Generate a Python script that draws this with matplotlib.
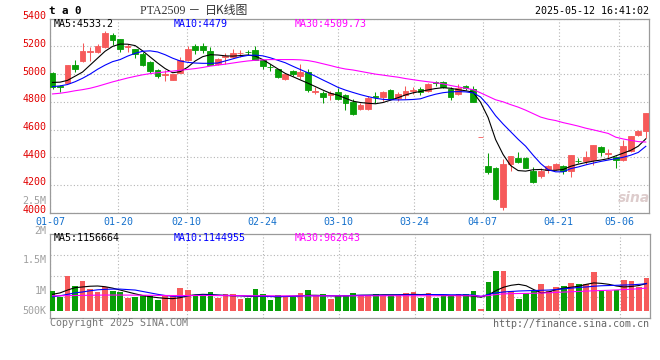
import matplotlib
matplotlib.use("Agg")
import matplotlib.pyplot as plt
from matplotlib.transforms import ScaledTranslation

plt.rcParams["font.family"] = ["DejaVu Sans Mono", "Noto Sans CJK SC"]

# ---------------------------------------------------------
# DATA
# ---------------------------------------------------------
dates = [
    "01-07", "01-08", "01-09", "01-10", "01-13", "01-14", "01-15", "01-16", "01-17", "01-20",
    "01-21", "01-22", "01-23", "01-24", "01-27", "02-05", "02-06", "02-07", "02-10", "02-11",
    "02-12", "02-13", "02-14", "02-17", "02-18", "02-19", "02-20", "02-21", "02-24", "02-25",
    "02-26", "02-27", "02-28", "03-03", "03-04", "03-05", "03-06", "03-07", "03-10", "03-11",
    "03-12", "03-13", "03-14", "03-17", "03-18", "03-19", "03-20", "03-21", "03-24", "03-25",
    "03-26", "03-27", "03-28", "03-31", "04-01", "04-02", "04-03", "04-07", "04-08", "04-09",
    "04-10", "04-11", "04-14", "04-15", "04-16", "04-17", "04-18", "04-21", "04-22", "04-23",
    "04-24", "04-25", "04-28", "04-29", "04-30", "05-06", "05-07", "05-08", "05-09", "05-12",
]

opens = [
    5008, 4914, 4938, 5064, 5093, 5160, 5157, 5195, 5279, 5250,
    5196, 5179, 5148, 5088, 5029, 4995, 4957, 5010, 5100, 5200,
    5200, 5164, 5070, 5126, 5124, 5150, 5162, 5171, 5105, 5055,
    5035, 4962, 5024, 4988, 5017, 4872, 4862, 4850, 4872, 4850,
    4800, 4750, 4750, 4840, 4836, 4886, 4830, 4848, 4880, 4896,
    4880, 4940, 4940, 4893, 4857, 4914, 4893, 4548, 4338, 4321,
    4041, 4350, 4393, 4393, 4298, 4267, 4307, 4314, 4338, 4298,
    4376, 4374, 4381, 4474, 4422, 4402, 4381, 4445, 4564, 4593,
]
highs = [
    5015, 4922, 5069, 5105, 5226, 5195, 5214, 5314, 5295, 5255,
    5219, 5183, 5160, 5093, 5036, 5029, 5002, 5124, 5200, 5219,
    5224, 5195, 5116, 5152, 5183, 5176, 5176, 5202, 5105, 5071,
    5038, 5003, 5029, 5070, 5040, 4905, 4879, 4876, 4898, 4857,
    4822, 4795, 4840, 4874, 4876, 4890, 4874, 4914, 4910, 4910,
    4938, 4952, 4952, 4910, 4929, 4921, 4914, 4548, 4429, 4331,
    4386, 4409, 4441, 4400, 4331, 4326, 4345, 4362, 4345, 4414,
    4393, 4443, 4486, 4481, 4462, 4410, 4528, 4552, 4600, 4719,
]
lows = [
    4895, 4874, 4933, 5017, 5088, 5095, 5152, 5192, 5207, 5160,
    5160, 5117, 5057, 5010, 4969, 4952, 4957, 5005, 5095, 5143,
    5155, 5066, 5066, 5076, 5119, 5124, 5140, 5100, 5040, 5024,
    4974, 4957, 4988, 4964, 4874, 4860, 4795, 4814, 4814, 4743,
    4708, 4740, 4743, 4795, 4805, 4814, 4805, 4822, 4857, 4850,
    4874, 4912, 4898, 4814, 4850, 4886, 4798, 4548, 4279, 4093,
    4017, 4302, 4362, 4321, 4214, 4248, 4288, 4307, 4279, 4260,
    4357, 4350, 4347, 4410, 4386, 4321, 4374, 4441, 4552, 4540,
]
closes = [
    4905, 4908, 5064, 5036, 5164, 5166, 5200, 5295, 5243, 5183,
    5202, 5148, 5064, 5021, 4988, 5000, 4998, 5105, 5179, 5176,
    5174, 5069, 5112, 5132, 5152, 5155, 5158, 5105, 5060, 5050,
    4981, 5000, 4998, 5017, 4886, 4876, 4838, 4867, 4820, 4791,
    4714, 4774, 4830, 4836, 4868, 4821, 4857, 4880, 4885, 4874,
    4929, 4936, 4910, 4838, 4898, 4898, 4802, 4548, 4291, 4100,
    4350, 4409, 4369, 4326, 4224, 4298, 4338, 4350, 4298, 4414,
    4372, 4402, 4486, 4438, 4434, 4381, 4481, 4552, 4593, 4719,
]

ma5 = [
    4940, 4942, 4955, 4985, 5015, 5065, 5115, 5165, 5200, 5217,
    5216, 5206, 5168, 5124, 5080, 5040, 5010, 5018, 5050, 5095,
    5126, 5140, 5138, 5132, 5130, 5134, 5138, 5130, 5105, 5072,
    5038, 5005, 4982, 4958, 4935, 4910, 4885, 4862, 4848, 4826,
    4805, 4795, 4790, 4786, 4795, 4812, 4830, 4850, 4865, 4875,
    4886, 4896, 4902, 4898, 4888, 4880, 4870, 4797, 4687, 4528,
    4420, 4340, 4304, 4300, 4310, 4312, 4305, 4306, 4312, 4335,
    4350, 4362, 4372, 4380, 4390, 4410, 4430, 4450, 4480, 4533,
]
ma10 = [
    4910, 4915, 4925, 4945, 4970, 5000, 5035, 5065, 5090, 5105,
    5130, 5150, 5165, 5168, 5160, 5140, 5115, 5095, 5085, 5080,
    5078, 5078, 5080, 5095, 5110, 5125, 5135, 5137, 5132, 5118,
    5100, 5082, 5057, 5033, 5010, 4985, 4958, 4932, 4905, 4885,
    4868, 4852, 4838, 4826, 4818, 4815, 4814, 4815, 4817, 4822,
    4840, 4855, 4866, 4872, 4874, 4872, 4865, 4835, 4775, 4700,
    4640, 4585, 4530, 4480, 4415, 4355, 4310, 4295, 4295, 4318,
    4330, 4345, 4358, 4370, 4380, 4390, 4400, 4415, 4435, 4479,
]
ma30 = [
    4857, 4862, 4870, 4880, 4888, 4898, 4912, 4928, 4944, 4958,
    4972, 4984, 4995, 5004, 5010, 5016, 5022, 5028, 5034, 5040,
    5048, 5058, 5065, 5072, 5080, 5088, 5095, 5100, 5103, 5105,
    5105, 5105, 5105, 5103, 5098, 5088, 5075, 5062, 5048, 5037,
    5030, 5020, 5010, 5000, 4993, 4985, 4978, 4968, 4960, 4952,
    4945, 4938, 4930, 4918, 4908, 4898, 4888, 4865, 4840, 4815,
    4800, 4780, 4762, 4740, 4715, 4690, 4675, 4665, 4650, 4638,
    4625, 4610, 4598, 4585, 4572, 4545, 4532, 4522, 4513, 4510,
]

# volume, thousands of lots
volume_k = [
    840, 600, 1483, 1050, 1260, 924, 798, 1008, 840, 785,
    546, 588, 672, 617, 449, 643, 630, 966, 882, 672,
    643, 798, 546, 701, 701, 504, 546, 924, 701, 462,
    672, 588, 588, 756, 882, 617, 714, 517, 630, 672,
    756, 672, 672, 714, 672, 672, 672, 756, 798, 546,
    756, 546, 672, 672, 714, 714, 840, 97, 1218, 1680,
    1680, 853, 504, 756, 853, 1134, 840, 1008, 1050, 1176,
    1134, 1134, 1638, 882, 840, 882, 1302, 1260, 1008, 1386,
]
vol_ma5_k = [
    700, 760, 880, 980, 1010, 1040, 1050, 1020, 960, 880,
    800, 720, 650, 600, 560, 530, 520, 560, 640, 680,
    700, 690, 670, 650, 640, 640, 620, 610, 620, 610,
    600, 610, 620, 640, 660, 660, 650, 640, 630, 640,
    650, 660, 665, 670, 680, 680, 680, 690, 700, 690,
    700, 680, 660, 650, 660, 650, 620, 580, 680, 860,
    1000, 1080, 1120, 1060, 900, 760, 800, 900, 960, 1000,
    1040, 1120, 1180, 1160, 1120, 1050, 1010, 1030, 1070, 1157,
]
vol_ma10_k = [
    600, 640, 700, 760, 800, 850, 890, 910, 920, 920,
    900, 880, 820, 760, 700, 650, 620, 620, 640, 660,
    670, 670, 660, 660, 650, 640, 630, 630, 620, 610,
    610, 610, 620, 630, 640, 640, 640, 640, 640, 640,
    650, 660, 660, 665, 665, 670, 675, 680, 680, 680,
    690, 690, 690, 680, 680, 680, 670, 610, 700, 760,
    800, 820, 840, 850, 860, 870, 880, 900, 930, 960,
    990, 1010, 1040, 1060, 1070, 1080, 1090, 1100, 1120, 1145,
]
vol_ma30_k = [
    640, 640, 645, 650, 655, 660, 665, 670, 670, 670,
    668, 665, 662, 660, 655, 652, 650, 650, 650, 650,
    650, 650, 648, 645, 645, 642, 640, 640, 640, 638,
    636, 636, 636, 636, 636, 636, 636, 636, 636, 636,
    636, 636, 638, 638, 640, 640, 640, 640, 640, 640,
    640, 640, 640, 640, 640, 640, 640, 620, 650, 690,
    720, 730, 735, 740, 745, 755, 765, 780, 795, 810,
    820, 835, 850, 860, 870, 885, 900, 915, 935, 963,
]

tick_labels = ["01-07", "01-20", "02-10", "02-24", "03-10", "03-24", "04-07", "04-21", "05-06"]
price_ticks = [4000, 4200, 4400, 4600, 4800, 5000, 5200, 5400]
vol_axis_texts = ["2.5M", "2M", "1.5M", "1M", "500K"]
price_ma_texts = ["MA5:4533.2", "MA10:4479", "MA30:4509.73"]
vol_ma_texts = ["MA5:1156664", "MA10:1144955", "MA30:962643"]

# ---------------------------------------------------------
# STYLE / LAYOUT (pixel geometry of the 660x360 source)
# ---------------------------------------------------------
RED = "#f65a5a"
GREEN = "#079f07"
MA_COLORS = ["#000000", "#0000ff", "#ff00ff"]
GRID = "#b4b4b4"
FRAME = "#9a9a9a"
LABEL_RED = "#e20000"
LABEL_BLUE = "#1470cc"
LABEL_GRAY = "#a0a0a0"

W, H = 660, 360
LEFT_PX, RIGHT_PX = 50.0, 649.3
PRICE_TOP, PRICE_BOT = 18.7, 212.7
VOL_TOP, VOL_BOT, VOL_BASE = 234.3, 317.7, 311.0
FIRST_PX, SLOT_PX, GRID_PX = 52.5, 7.51, 7.59
VOL_PER_PX = 42.0
FS = 7.2


def fx(px):
    return px / W


def fy(py):
    return 1 - py / H


fig = plt.figure(figsize=(W / 100, H / 100), dpi=100)
fig.patch.set_facecolor("white")

x = list(range(len(dates)))
xlim = ((LEFT_PX - FIRST_PX) / SLOT_PX, (RIGHT_PX - FIRST_PX) / SLOT_PX)
tick_pos = [(LEFT_PX + GRID_PX * dates.index(d) - FIRST_PX) / SLOT_PX for d in tick_labels]
colors = [RED if c >= o else GREEN for o, c in zip(opens, closes)]
grid_kw = dict(color=GRID, linestyle=(0, (1, 2)), linewidth=0.8)


def frame(a):
    for s in a.spines.values():
        s.set_color(FRAME)
        s.set_linewidth(0.9)
    a.tick_params(length=0, labelleft=False, labelbottom=False)


# =========================================================
# PRICE PANEL
# =========================================================
ax = fig.add_axes([fx(LEFT_PX), fy(PRICE_BOT), fx(RIGHT_PX - LEFT_PX), (PRICE_BOT - PRICE_TOP) / H])
ax.set_xlim(*xlim)
ax.set_ylim(price_ticks[0], price_ticks[-1])
ax.set_xticks(tick_pos)
ax.set_yticks(price_ticks)
ax.grid(True, **grid_kw)
ax.set_axisbelow(True)
frame(ax)

body_lo = [min(o, c) for o, c in zip(opens, closes)]
body_h = [abs(c - o) for o, c in zip(opens, closes)]
ax.vlines(x, lows, highs, colors=colors, linewidth=0.75, zorder=3)
ax.bar(x, body_h, bottom=body_lo, width=0.76, color=colors, edgecolor=colors,
       linewidth=0.6, zorder=4)

for series, col in zip([ma5, ma10, ma30], MA_COLORS):
    ax.plot(x, series, color=col, linewidth=0.8, zorder=5)

lift = ScaledTranslation(0, 2.5 / 100, fig.dpi_scale_trans)
for v in price_ticks:
    ax.text(-0.006, v, str(v), transform=ax.get_yaxis_transform() + lift,
            ha="right", va="center", color=LABEL_RED, fontsize=FS)

for pos, lab in zip(tick_pos, tick_labels):
    ax.text(pos, -9 / (PRICE_BOT - PRICE_TOP), lab, transform=ax.get_xaxis_transform(),
            ha="center", va="center", color=LABEL_BLUE, fontsize=FS)

# =========================================================
# VOLUME PANEL
# =========================================================
axv = fig.add_axes([fx(LEFT_PX), fy(VOL_BOT), fx(RIGHT_PX - LEFT_PX + 0.7), (VOL_BOT - VOL_TOP) / H])
vlo = -(VOL_BOT - VOL_BASE) * VOL_PER_PX
vhi = (VOL_BASE - VOL_TOP) * VOL_PER_PX
axv.set_xlim(*xlim)
axv.set_ylim(vlo, vhi)
axv.set_xticks(tick_pos)
axv.set_yticks([vlo + f * (vhi - vlo) for f in (0.25, 0.5, 0.75)])
axv.grid(True, **grid_kw)
axv.set_axisbelow(True)
frame(axv)

axv.bar(x, volume_k, width=0.76, color=colors, zorder=3)
for series, col in zip([vol_ma5_k, vol_ma10_k, vol_ma30_k], MA_COLORS):
    axv.plot(x, series, color=col, linewidth=0.8, zorder=4)

# =========================================================
# TEXTS
# =========================================================
fig.text(fx(49), fy(11), "t a 0", fontsize=7.8, fontweight="bold", va="center")
fig.text(fx(140), fy(10.5), "PTA2509 －", family=["Liberation Serif", "Noto Sans CJK SC"],
         fontsize=8.6, color="#333333", va="center")
fig.text(fx(205), fy(10.5), "日K线图", family=["Noto Sans CJK SC"],
         fontsize=8.6, color="#333333", va="center")
fig.text(fx(RIGHT_PX), fy(11), "2025-05-12 16:41:02", fontsize=FS, ha="right", va="center")

for txt, col, px in zip(price_ma_texts, MA_COLORS, [54, 174, 295]):
    fig.text(fx(px), fy(24), txt, color=col, fontsize=FS, va="center")
for txt, col, px in zip(vol_ma_texts, MA_COLORS, [54, 174, 295]):
    fig.text(fx(px), fy(238.3), txt, color=col, fontsize=FS, va="center")

for txt, py in zip(vol_axis_texts, [200.7, 231, 260.3, 291, 311]):
    fig.text(fx(46.7), fy(py), txt, color=LABEL_GRAY, fontsize=FS, ha="right", va="center")

fig.text(fx(50), fy(323.5), "Copyright 2025 SINA.COM", color="#777777", fontsize=FS, va="center")
fig.text(fx(RIGHT_PX), fy(324), "http://finance.sina.com.cn", color="#666666",
         fontsize=FS, ha="right", va="center")

fig.text(fx(634), fy(198), "sina", family="DejaVu Sans", color="#d8c4c4", fontsize=10,
         fontstyle="italic", fontweight="bold", ha="center", va="center", alpha=0.85)

fig.savefig("out.png", dpi=100, facecolor="white")
